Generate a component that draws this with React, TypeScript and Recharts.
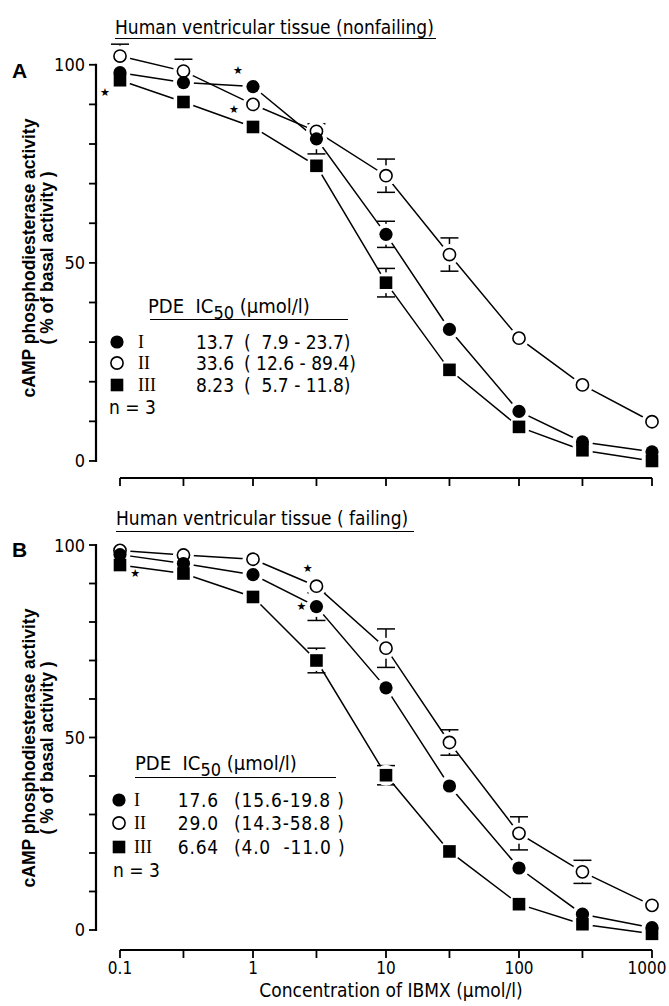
import React from "react";
import {
  LineChart, Line, XAxis, YAxis, ErrorBar, ReferenceLine, ReferenceDot, Legend,
} from "recharts";

const FONT = "'Liberation Sans Narrow', 'DejaVu Sans Condensed', 'Liberation Sans', sans-serif";
const BOLD = "'Liberation Sans', Arial, sans-serif";
const SERIF = "'Liberation Serif', 'DejaVu Serif', serif";

// IBMX concentration (µmol/l), log axis
const conc = [0.1, 0.3, 1, 3, 10, 30, 100, 300, 1000];
const labeledConc = [0.1, 1, 10, 100, 1000];
const yTicks = [0, 10, 20, 30, 40, 50, 60, 70, 80, 90, 100];
const X_MIN = 0.066;
const Y_TICK = 7;
const Y_GAP = 4;

// panel A - nonfailing
const aI = [98, 95.5, 94.5, 81.3, 57.2, 33.2, 12.5, 4.8, 2.3];
const aII = [102.2, 98.4, 90, 83.2, 72, 52.1, 31, 19.2, 9.9];
const aIII = [96.1, 90.6, 84.3, 74.5, 45, 23, 8.6, 2.7, 0];
const aErrI = [0, 0, 0, 3.8, 3.3, 0, 0, 0, 0];
const aErrII = [3, 3, 0, 0, 4.2, 4.2, 0, 0, 0];
const aErrIII = [0, 0, 0, 0, 3.6, 0, 0, 0, 0];
const aStars = [{ x: 0.077, y: 92.9 }, { x: 0.77, y: 98.6 }, { x: 0.72, y: 88.8 }];
const aLegend = [
  { kind: "I", num: "I", val: "13.7", range: "(  7.9 - 23.7)" },
  { kind: "II", num: "II", val: "33.6", range: "( 12.6 - 89.4)" },
  { kind: "III", num: "III", val: "8.23", range: "(  5.7 - 11.8)" },
];

// panel B - failing
const bI = [97.5, 95.2, 92.3, 84, 62.9, 37.4, 16.1, 4.1, 0.6];
const bII = [98.6, 97.4, 96.3, 89.3, 73.2, 48.7, 25.1, 15.1, 6.4];
const bIII = [94.8, 92.6, 86.5, 70, 40.2, 20.4, 6.7, 1.5, -1];
const bErrI = [0, 0, 0, 3.6, 0, 0, 0, 0, 0];
const bErrII = [0, 0, 0, 0, 5, 3.3, 4.3, 3, 0];
const bErrIII = [0, 0, 0, 3.2, 2.5, 0, 0, 0, 0];
const bStars = [{ x: 0.13, y: 92.6 }, { x: 2.58, y: 93.9 }, { x: 2.31, y: 83.9 }];
const bLegend = [
  { kind: "I", num: "I", val: "17.6", range: "(15.6-19.8 )" },
  { kind: "II", num: "II", val: "29.0", range: "(14.3-58.8 )" },
  { kind: "III", num: "III", val: "6.64", range: "(4.0  -11.0 )" },
];

const KEYS = ["I", "II", "III"];
const DRAW_ORDER = ["II", "III", "I"];

function buildRows(I: number[], II: number[], III: number[], eI: number[], eII: number[], eIII: number[]) {
  return conc.map((x, i) => ({ x, I: I[i], II: II[i], III: III[i], eI: eI[i], eII: eII[i], eIII: eIII[i] }));
}

function Marker({ kind, cx, cy }: { kind: string; cx: number; cy: number }) {
  if (kind === "I") return <circle cx={cx} cy={cy} r={6.6} fill="#000" />;
  if (kind === "II") return <circle cx={cx} cy={cy} r={6.1} fill="#fff" stroke="#000" strokeWidth={1.6} />;
  return <rect x={cx - 6.3} y={cy - 6.3} width={12.6} height={12.6} fill="#000" />;
}

const dotFor = (kind: string) => (p: any) => {
  if (p.cx == null || p.cy == null) return <g key={`${kind}-${p.index}`} />;
  return <Marker key={`${kind}-${p.index}`} kind={kind} cx={p.cx} cy={p.cy} />;
};

const halo = (p: any) => {
  if (p.cx == null || p.cy == null) return <g key={`h-${p.index}`} />;
  return <circle key={`h-${p.index}`} cx={p.cx} cy={p.cy} r={10.5} fill="#fff" />;
};

const star = (p: any) => (
  <text x={p.cx} y={p.cy} textAnchor="middle" dominantBaseline="central" fontSize={11} fontFamily="DejaVu Sans" fill="#000">★</text>
);

// y tick: mark, label at 0/50/100, and the axis segment up to the next tick
const makeYTick = (step: number) => (t: any) => {
  const v = Number(t.payload.value);
  const y = Number(t.payload.coordinate ?? t.y);
  const tx = Number(t.x);
  const ax = tx + Y_TICK + Y_GAP;
  return (
    <g key={`yt-${v}`}>
      <path d={`M${ax - Y_TICK},${y}H${ax}`} stroke="#000" strokeWidth={1.8} fill="none" />
      {v < 100 && <path d={`M${ax},${y + 1}V${y - step - 1}`} stroke="#000" strokeWidth={2.2} fill="none" />}
      {v % 50 === 0 && (
        <text x={tx} y={y} textAnchor="end" dominantBaseline="central" fontSize={18} fontFamily={FONT} fill="#000">{v}</text>
      )}
    </g>
  );
};

const makeXTick = (show: boolean) => (t: any) => {
  const v = t.payload.value;
  if (!show || !labeledConc.includes(v)) return <g key={`xt-${v}`} />;
  return (
    <text key={`xt-${v}`} x={t.x - (v === 1000 ? 5 : 0)} y={t.y} dy="0.8em" textAnchor="middle" fontSize={17} fontFamily={FONT} fill="#000">
      {v}
    </text>
  );
};

type LegendCfg = {
  headerX: number; headerY: number; lineX1: number; lineX2: number; lineY: number;
  markerX: number; numX: number; valRight: number; rangeX: number; rowsY: number[]; nX: number; nY: number;
  spacing: number;
};

function IcLegend({ cfg, rows }: { cfg: LegendCfg; rows: typeof aLegend }) {
  const txt = (y: number): React.CSSProperties => ({ position: "absolute", top: y - 11, height: 22, lineHeight: "22px", whiteSpace: "pre" });
  return (
    <div style={{ position: "relative", fontFamily: FONT, fontSize: 19, color: "#000" }}>
      <div style={{ ...txt(cfg.headerY), left: cfg.headerX, fontSize: 20 }}>
        PDE  IC<span style={{ position: "relative", top: 6, fontSize: 18 }}>50</span> (µmol/l)
      </div>
      <div style={{ position: "absolute", left: cfg.lineX1, top: cfg.lineY - 0.75, width: cfg.lineX2 - cfg.lineX1, borderTop: "1.5px solid #000" }} />
      {rows.map((r, i) => (
        <React.Fragment key={r.kind}>
          <svg style={{ position: "absolute", left: cfg.markerX - 8, top: cfg.rowsY[i] - 8 }} width={16} height={16}>
            <Marker kind={r.kind} cx={8} cy={8} />
          </svg>
          <div style={{ ...txt(cfg.rowsY[i]), left: cfg.numX, fontFamily: SERIF, fontSize: 18 }}>{r.num}</div>
          <div style={{ ...txt(cfg.rowsY[i]), left: cfg.valRight - 60, width: 60, textAlign: "right", letterSpacing: cfg.spacing }}>{r.val}</div>
          <div style={{ ...txt(cfg.rowsY[i]), left: cfg.rangeX, letterSpacing: cfg.spacing }}>{r.range}</div>
        </React.Fragment>
      ))}
      <div style={{ ...txt(cfg.nY), left: cfg.nX }}>n = 3</div>
    </div>
  );
}

type PanelProps = {
  rows: ReturnType<typeof buildRows>;
  height: number;
  top: number;
  yMin: number;
  yMax: number;
  marginTop: number;
  marginBottom: number;
  xAxisHeight: number;
  showXLabels: boolean;
  stars: { x: number; y: number }[];
  legendRows: typeof aLegend;
  legendCfg: LegendCfg;
  title: string;
  titleX: number;
  titleY: number;
  titleW: number;
  ruleY: number;
  letter: string;
  letterY: number;
};

function Panel(p: PanelProps) {
  const plotH = p.height - p.marginTop - p.marginBottom - p.xAxisHeight;
  const step = (10 * plotH) / (p.yMax - p.yMin);
  return (
    <div style={{ position: "absolute", left: 0, top: p.top, width: 669, height: p.height }}>
      <LineChart
        width={669}
        height={p.height}
        data={p.rows}
        margin={{ top: p.marginTop, right: 17, bottom: p.marginBottom, left: 36 }}
      >
        <XAxis
          dataKey="x"
          type="number"
          scale="log"
          domain={[X_MIN, 1000]}
          ticks={conc}
          interval={0}
          height={p.xAxisHeight}
          axisLine={false}
          tickLine={{ stroke: "#000", strokeWidth: 1.8 }}
          tickSize={8}
          tickMargin={2}
          tick={makeXTick(p.showXLabels)}
          label={p.showXLabels ? {
            content: (lp: any) => {
              const vb = lp.viewBox;
              return (
                <text x={vb.x + vb.width / 2 + 17} y={vb.y + vb.height - 9} textAnchor="middle" fontSize={19} fontFamily={FONT} fill="#000">
                  Concentration of  IBMX (µmol/l)
                </text>
              );
            },
          } : undefined}
        />
        <YAxis
          type="number"
          domain={[p.yMin, p.yMax]}
          ticks={yTicks}
          interval={0}
          width={60}
          axisLine={false}
          tickLine={false}
          tickSize={Y_TICK}
          tickMargin={Y_GAP}
          tick={makeYTick(step)}
          label={{
            content: () => (
              <g fontFamily={BOLD} fontWeight="bold" fontSize={17.5} fill="#000">
                <text x={29} y={258} textAnchor="middle" dominantBaseline="central" transform="rotate(-90 29 258)">
                  cAMP phosphodiesterase activity
                </text>
                <text x={47} y={258} textAnchor="middle" dominantBaseline="central" transform="rotate(-90 47 258)">
                  ( % of basal activity )
                </text>
              </g>
            ),
          }}
        />
        <ReferenceLine segment={[{ x: 0.1, y: p.yMin }, { x: 1000, y: p.yMin }]} stroke="#000" strokeWidth={2} ifOverflow="visible" />

        {KEYS.map((k) => (
          <Line key={`line-${k}`} type="linear" dataKey={k} stroke="#000" strokeWidth={1.5} dot={false} activeDot={false} isAnimationActive={false} />
        ))}
        {KEYS.map((k) => (
          <Line key={`halo-${k}`} type="linear" dataKey={k} stroke="none" dot={halo} activeDot={false} isAnimationActive={false} />
        ))}
        {DRAW_ORDER.map((k) => (
          <Line key={`mark-${k}`} type="linear" dataKey={k} stroke="none" dot={dotFor(k)} activeDot={false} isAnimationActive={false}>
            <ErrorBar dataKey={`e${k}`} direction="y" width={9} stroke="#000" strokeWidth={1.5} />
          </Line>
        ))}

        {p.stars.map((s, i) => (
          <ReferenceDot key={`star-${i}`} x={s.x} y={s.y} r={4} shape={star} ifOverflow="visible" />
        ))}

        <Legend
          layout="vertical"
          align="center"
          verticalAlign="middle"
          wrapperStyle={{ left: 0, top: 0, width: 669, height: 0 }}
          content={() => <IcLegend cfg={p.legendCfg} rows={p.legendRows} />}
        />
      </LineChart>

      <div style={{ position: "absolute", left: p.titleX, top: p.titleY - 11, width: p.titleW, fontFamily: FONT, fontSize: 19, lineHeight: "22px", whiteSpace: "nowrap", color: "#000" }}>
        {p.title}
      </div>
      <div style={{ position: "absolute", left: p.titleX, top: p.ruleY - 0.75, width: p.titleW, borderTop: "1.5px solid #000" }} />
      <div style={{ position: "absolute", left: 12, top: p.letterY - 12, fontFamily: BOLD, fontWeight: "bold", fontSize: 21, lineHeight: "24px", color: "#000" }}>
        {p.letter}
      </div>
    </div>
  );
}

export default function App() {
  const rowsA = buildRows(aI, aII, aIII, aErrI, aErrII, aErrIII);
  const rowsB = buildRows(bI, bII, bIII, bErrI, bErrII, bErrIII);
  return (
    <div style={{ position: "absolute", left: 0, top: 0, width: 669, height: 1006, background: "#fff", overflow: "hidden" }}>
      <Panel
        rows={rowsA}
        top={0}
        height={490}
        yMin={-4.3}
        yMax={106}
        marginTop={41}
        marginBottom={2}
        xAxisHeight={10}
        showXLabels={false}
        stars={aStars}
        legendRows={aLegend}
        legendCfg={{
          headerX: 148, headerY: 306, lineX1: 150, lineX2: 348, lineY: 320,
          markerX: 117, numX: 138, valRight: 234, rangeX: 244, rowsY: [342, 363, 385], nX: 109, nY: 407,
          spacing: 0,
        }}
        title="Human ventricular tissue (nonfailing)"
        titleX={115}
        titleY={27}
        titleW={321}
        ruleY={38.5}
        letter="A"
        letterY={71}
      />
      <Panel
        rows={rowsB}
        top={490}
        height={516}
        yMin={-5.2}
        yMax={100}
        marginTop={55}
        marginBottom={0}
        xAxisHeight={56}
        showXLabels={true}
        stars={bStars}
        legendRows={bLegend}
        legendCfg={{
          headerX: 135, headerY: 273, lineX1: 135, lineX2: 336, lineY: 288,
          markerX: 119, numX: 134, valRight: 219, rangeX: 234, rowsY: [310, 333, 357], nX: 113, nY: 380,
          spacing: 0.8,
        }}
        title="Human ventricular tissue ( failing)"
        titleX={116}
        titleY={28}
        titleW={298}
        ruleY={42}
        letter="B"
        letterY={60}
      />
    </div>
  );
}
